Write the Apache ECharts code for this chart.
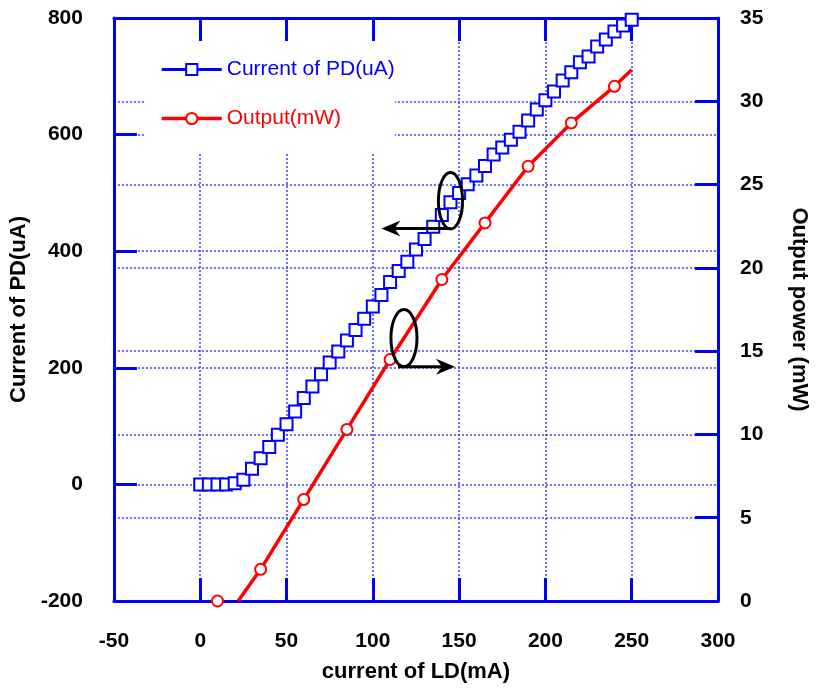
<!DOCTYPE html>
<html>
<head>
<meta charset="utf-8">
<script src="https://cdn.jsdelivr.net/npm/echarts@6/dist/echarts.min.js"></script>
<style>html,body{margin:0;padding:0;background:#fff}#c{width:820px;height:689px}</style>
</head>
<body>
<div id="c"></div>
<script>
// ---- data ----
const ldCurrent = [0,5,10,15,20,25,30,35,40,45,50,55,60,65,70,75,80,85,90,95,100,105,110,115,120,125,130,135,140,145,150,155,160,165,170,175,180,185,190,195,200,205,210,215,220,225,230,235,240,245,250];
const pdCurrent = [0,0,0,0,2,8,27,45,64,85,103,125,148,168,189,209,228,247,265,284,305,325,347,366,382,403,421,442,462,484,500,515,530,546,566,578,591,605,624,643,659,674,693,707,724,734,751,763,777,787,797];
const powerLineX = [22,35,60,85,110,140,165,190,215,240,250];
const powerLineY = [0,1.9,6.1,10.3,14.5,19.3,22.7,26.1,28.7,30.9,31.9];
const powerMarkX = [10,35,60,85,110,140,165,190,215,240];
const powerMarkY = [0,1.9,6.1,10.3,14.5,19.3,22.7,26.1,28.7,30.9];
const xRange = [-50, 300, 50];
const pdRange = [-200, 800, 200];
const powRange = [0, 35, 5];
const seriesNames = ['Current of PD(uA)', 'Output(mW)'];
const axisTitles = ['current of LD(mA)', 'Current of PD(uA)', 'Output power (mW)'];
// annotation marks (data coords on LD current / PD current axes)
const ellipsePD = [138, 152, 438, 535];   // xmin,xmax,ymin,ymax
const arrowPD = [145, 105, 439];          // from x, to x, y
const ellipsePow = [110.5, 125.6, 202, 300];
const arrowPow = [114.6, 147.6, 202];

const BLUE = '#0000ff', RED = '#ff0000', GRIDC = '#3c3cff';
const FONT = '"Liberation Sans", Arial, sans-serif';

const chart = echarts.init(document.getElementById('c'));
const tickStyle = {show: true, inside: true, length: 23, lineStyle: {color: BLUE, width: 3}};
const lineAx = {show: true, onZero: false, lineStyle: {color: BLUE, width: 3}};
const split = {show: true, lineStyle: {color: GRIDC, width: 1.5, type: [2, 2]}};
const lab = {color: '#000', fontFamily: FONT, fontWeight: 'bold', fontSize: 21};
const nameStyle = {color: '#000', fontFamily: FONT, fontWeight: 'bold', fontSize: 22};

chart.setOption({
  animation: false,
  backgroundColor: '#fff',
  grid: {left: 113, right: 102, top: 18, bottom: 88, containLabel: false},
  legend: {
    orient: 'vertical', left: 145, top: 42, itemWidth: 60, itemHeight: 14, itemGap: 28,
    padding: [17, 0, 24, 15], backgroundColor: '#fff', z: 5,
    textStyle: {fontFamily: FONT, fontSize: 21},
    data: [
      {name: seriesNames[0], textStyle: {color: BLUE}, lineStyle: {color: BLUE, width: 3, type: 'solid', opacity: 1}, itemStyle: {color: BLUE, borderWidth: 1.5}},
      {name: seriesNames[1], textStyle: {color: RED}, lineStyle: {color: RED, width: 3.5, type: 'solid', opacity: 1}, itemStyle: {color: RED, borderWidth: 1.5}}
    ]
  },
  xAxis: [
    {type: 'value', position: 'bottom', min: xRange[0], max: xRange[1], interval: xRange[2],
     axisLine: lineAx, axisTick: tickStyle, splitLine: split,
     axisLabel: Object.assign({margin: 30}, lab),
     name: axisTitles[0], nameLocation: 'middle', nameGap: 60, nameTextStyle: nameStyle},
    {type: 'value', position: 'top', min: xRange[0], max: xRange[1], interval: xRange[2],
     axisLine: lineAx, axisTick: tickStyle, splitLine: {show: false}, axisLabel: {show: false}}
  ],
  yAxis: [
    {type: 'value', position: 'left', min: pdRange[0], max: pdRange[1], interval: pdRange[2],
     axisLine: lineAx, axisTick: tickStyle, splitLine: split,
     axisLabel: Object.assign({margin: 31}, lab),
     name: axisTitles[1], nameLocation: 'middle', nameGap: 76, nameTextStyle: nameStyle},
    {type: 'value', position: 'right', min: powRange[0], max: powRange[1], interval: powRange[2],
     axisLine: lineAx, axisTick: tickStyle, splitLine: split,
     axisLabel: Object.assign({margin: 22}, lab),
     name: axisTitles[2], nameLocation: 'middle', nameGap: 70, nameRotate: -90, nameTextStyle: nameStyle}
  ],
  series: [
    {name: seriesNames[0], type: 'line', xAxisIndex: 0, yAxisIndex: 0,
     data: ldCurrent.map((x, i) => [x, pdCurrent[i]]),
     symbol: 'emptyRect', symbolSize: 12, showAllSymbol: true,
     lineStyle: {color: BLUE, width: 3}, itemStyle: {color: BLUE, borderWidth: 1.6, opacity: 1}, z: 3},
    {name: seriesNames[1], type: 'line', xAxisIndex: 0, yAxisIndex: 1,
     data: powerLineX.map((x, i) => [x, powerLineY[i]]),
     symbol: 'emptyCircle', symbolSize: 11, showSymbol: false,
     lineStyle: {color: RED, width: 3.5}, itemStyle: {color: RED, borderWidth: 1.5, opacity: 1}, z: 2},
    {name: 'outputMarks', type: 'scatter', xAxisIndex: 0, yAxisIndex: 1,
     data: powerMarkX.map((x, i) => [x, powerMarkY[i]]),
     symbol: 'emptyCircle', symbolSize: 11,
     itemStyle: {color: RED, borderWidth: 1.5, opacity: 1}, z: 4}
  ]
});

function px(x, y) { return chart.convertToPixel({xAxisIndex: 0, yAxisIndex: 0}, [x, y]); }
function ellipseEl(b) {
  const p1 = px(b[0], b[2]), p2 = px(b[1], b[3]);
  return {type: 'ellipse', z: 10,
    shape: {cx: (p1[0] + p2[0]) / 2, cy: (p1[1] + p2[1]) / 2, rx: Math.abs(p2[0] - p1[0]) / 2, ry: Math.abs(p2[1] - p1[1]) / 2},
    style: {fill: null, stroke: '#000', lineWidth: 3}};
}
function arrowEls(a) {
  const s = px(a[0], a[2]), e = px(a[1], a[2]);
  const d = e[0] > s[0] ? 1 : -1;
  const tip = e[0];
  return [
    {type: 'line', z: 10, shape: {x1: s[0], y1: s[1], x2: tip - d * 12, y2: e[1]}, style: {stroke: '#000', lineWidth: 3}},
    {type: 'polygon', z: 10, shape: {points: [[tip, e[1]], [tip - d * 19, e[1] - 8], [tip - d * 13, e[1]], [tip - d * 19, e[1] + 8]]}, style: {fill: '#000'}}
  ];
}
chart.setOption({graphic: [ellipseEl(ellipsePD), ellipseEl(ellipsePow)].concat(arrowEls(arrowPD), arrowEls(arrowPow))});
</script>
</body>
</html>
